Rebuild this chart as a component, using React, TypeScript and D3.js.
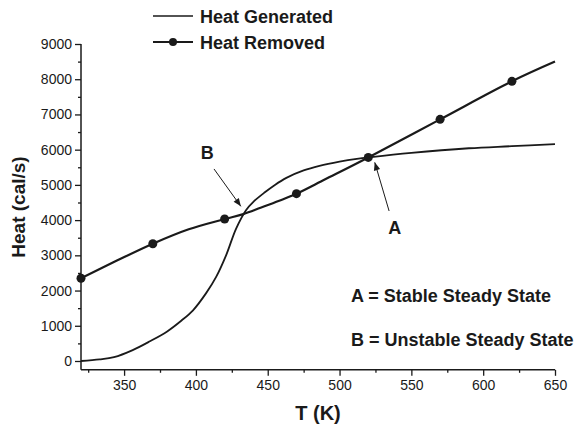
import { useRef, useEffect } from 'react';
import * as d3 from 'd3';

// Heat generated curve (T in K, heat in cal/s)
const genT = [320, 333, 343, 356, 368, 380, 390, 398, 407, 414, 421, 428, 435, 440, 448, 455, 463, 475, 486, 500, 512, 522, 550, 590, 620, 650];
const genQ = [0, 45, 110, 310, 560, 840, 1150, 1440, 1920, 2380, 3000, 3760, 4290, 4520, 4790, 5000, 5200, 5410, 5540, 5660, 5740, 5790, 5910, 6040, 6100, 6160];

// Heat removed curve and its markers
const remT = [320, 345, 370, 395, 420, 433, 445, 458, 470, 490, 520, 570, 620, 650];
const remQ = [2350, 2850, 3330, 3740, 4030, 4170, 4350, 4550, 4750, 5160, 5780, 6860, 7940, 8500];
const markT = [320, 370, 420, 470, 520, 570, 620];
const markQ = [2350, 3330, 4030, 4750, 5780, 6860, 7940];

const xTicks = [350, 400, 450, 500, 550, 600, 650];
const xMinor = [325, 375, 425, 475, 525, 575, 625];
const yTicks = [0, 1000, 2000, 3000, 4000, 5000, 6000, 7000, 8000, 9000];
const yMinor = [500, 1500, 2500, 3500, 4500, 5500, 6500, 7500, 8500];

const legendNames = ['Heat Generated', 'Heat Removed'];
const notes = ['A = Stable Steady State', 'B = Unstable Steady State'];

function App() {
  const ref = useRef(null);

  useEffect(() => {
    const el = ref.current;
    if (!el) return;
    el.innerHTML = '';

    const W = 578, H = 432;
    const font = '"Liberation Sans", Arial, sans-serif';
    const ink = '#1a1a1a';

    const svg = d3.select(el).append('svg')
      .attr('width', W).attr('height', H)
      .style('position', 'absolute').style('left', 0).style('top', 0)
      .style('font-family', font);

    svg.append('rect').attr('width', W).attr('height', H).attr('fill', '#fff');

    const x = d3.scaleLinear().domain([320, 650]).range([81, 555]);
    const y = d3.scaleLinear().domain([-250, 9000]).range([369.8, 44]);

    // axes
    const gx = svg.append('g').attr('transform', `translate(0,${y(-250)})`)
      .call(d3.axisBottom(x).tickValues(xTicks).tickSize(6).tickPadding(4).tickFormat(d3.format('d')));
    gx.append('g').call(d3.axisBottom(x).tickValues(xMinor).tickSize(3).tickFormat(() => ''))
      .select('.domain').remove();
    const gy = svg.append('g').attr('transform', `translate(${x(320)},0)`)
      .call(d3.axisLeft(y).tickValues(yTicks).tickSize(6).tickPadding(3).tickFormat(d3.format('d')));
    gy.append('g').call(d3.axisLeft(y).tickValues(yMinor).tickSize(3).tickFormat(() => ''))
      .select('.domain').remove();

    [gx, gy].forEach(g => {
      g.selectAll('.domain').attr('stroke', ink).attr('stroke-width', 1.5)
        .attr('d', function () {
          return g === gx ? `M${x(320)},0H${x(650)}` : `M0,${y(9000)}V${y(-250)}`;
        });
      g.selectAll('line').attr('stroke', ink).attr('stroke-width', 1.3);
      g.selectAll('text').attr('fill', ink).style('font-size', '14px').style('font-family', font);
    });

    // curves
    const gen = genT.map((t, i) => [t, genQ[i]]);
    const rem = remT.map((t, i) => [t, remQ[i]]);
    const line = d3.line().x(d => x(d[0])).y(d => y(d[1])).curve(d3.curveCatmullRom.alpha(0.5));

    svg.append('path').attr('d', line(gen)).attr('fill', 'none')
      .attr('stroke', ink).attr('stroke-width', 1.8);
    svg.append('path').attr('d', line(rem)).attr('fill', 'none')
      .attr('stroke', ink).attr('stroke-width', 2.2);
    svg.append('g').selectAll('circle').data(markT).enter().append('circle')
      .attr('cx', d => x(d)).attr('cy', (d, i) => y(markQ[i])).attr('r', 4.5).attr('fill', ink);

    // arrows
    svg.append('defs').append('marker')
      .attr('id', 'ah').attr('viewBox', '0 0 10 10').attr('refX', 10).attr('refY', 5)
      .attr('markerWidth', 10).attr('markerHeight', 8).attr('markerUnits', 'userSpaceOnUse')
      .attr('orient', 'auto')
      .append('path').attr('d', 'M0,1L10,5L0,9Z').attr('fill', ink);

    const arrow = (t0, q0, t1, q1) => svg.append('line')
      .attr('x1', x(t0)).attr('y1', y(q0)).attr('x2', x(t1)).attr('y2', y(q1))
      .attr('stroke', ink).attr('stroke-width', 1).attr('marker-end', 'url(#ah)');
    arrow(412.6, 5452, 431.3, 4390);
    arrow(534.5, 4259, 524.5, 5640);

    const label = (t, q, s) => svg.append('text').attr('x', x(t)).attr('y', y(q))
      .attr('text-anchor', 'middle').attr('dy', '0.35em').attr('fill', ink)
      .style('font-size', '18px').style('font-weight', 'bold').text(s);
    label(407.9, 5916, 'B');
    label(538.5, 3780, 'A');

    svg.selectAll('.note').data(notes).enter().append('text')
      .attr('x', 351).attr('y', (d, i) => 302 + i * 44)
      .attr('fill', ink).style('font-size', '18px').style('font-weight', 'bold')
      .text(d => d);

    // axis titles
    svg.append('text').attr('x', x(485)).attr('y', 420).attr('text-anchor', 'middle')
      .attr('fill', ink).style('font-size', '20px').style('font-weight', 'bold').text('T (K)');
    svg.append('text').attr('transform', `translate(25,${207}) rotate(-90)`)
      .attr('text-anchor', 'middle').attr('fill', ink)
      .style('font-size', '19px').style('font-weight', 'bold').text('Heat (cal/s)');

    // legend
    const lg = svg.append('g');
    legendNames.forEach((name, i) => {
      const ly = 16 + i * 26;
      lg.append('line').attr('x1', 153).attr('x2', 193).attr('y1', ly).attr('y2', ly)
        .attr('stroke', ink).attr('stroke-width', i === 0 ? 1.5 : 2);
      if (i === 1) lg.append('circle').attr('cx', 173).attr('cy', ly).attr('r', 4).attr('fill', ink);
      lg.append('text').attr('x', 200).attr('y', ly + 7).attr('fill', ink)
        .style('font-size', '18px').style('font-weight', 'bold').text(name);
    });
  }, []);

  return <div ref={ref}></div>;
}

export default App;
